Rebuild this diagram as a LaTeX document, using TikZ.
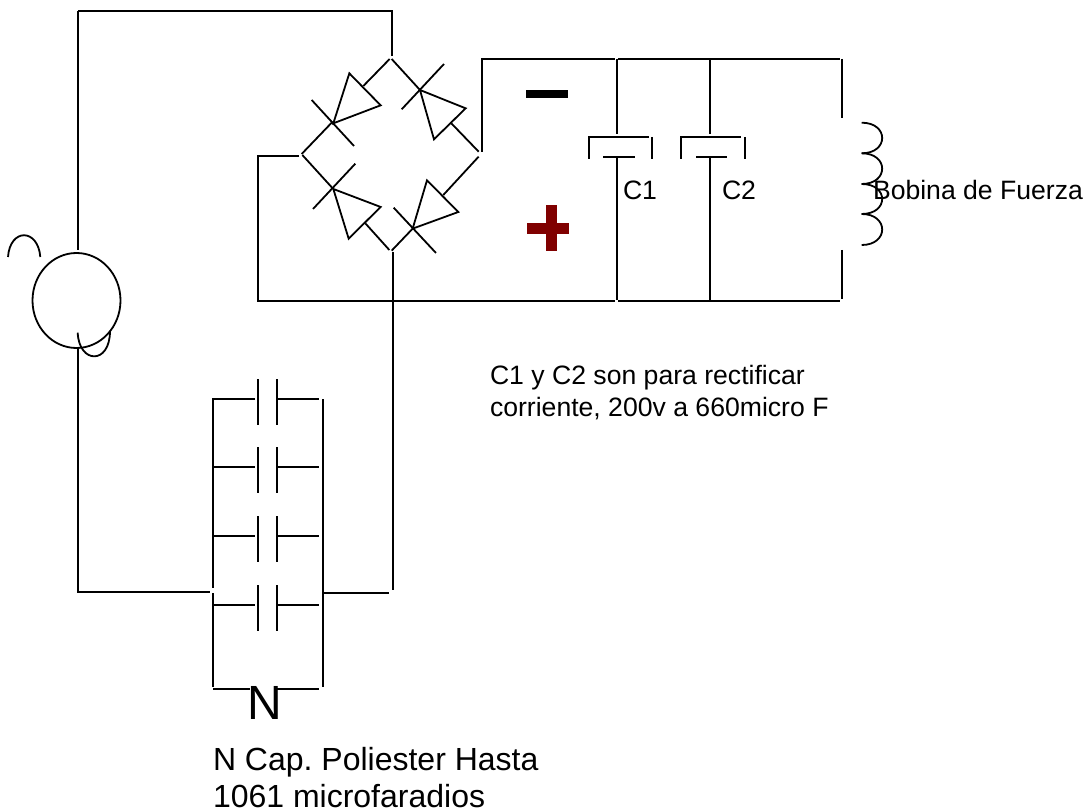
\documentclass[tikz,border=0pt]{standalone}
\usepackage{fontspec}
\setmainfont{Liberation Sans}
\frenchspacing
\tikzset{
  wire/.style={line width=1.8pt,black,line cap=butt,line join=miter},
  lbl/.style={inner sep=0pt,outer sep=0pt,anchor=base west,align=left},
}
\definecolor{plusred}{RGB}{128,0,0}
\newcommand{\txt}[1]{\fontsize{#1}{#1}\selectfont}
\begin{document}
\begin{tikzpicture}[x=1pt,y=-1pt]
\useasboundingbox (0,0) rectangle (1087,810);
% AC source
\draw[wire] (78,11) -- (392,11) -- (392,56);
\draw[wire] (78,11) -- (78,250);
\draw[wire] (78,349) -- (78,592) -- (210,592);
\draw[wire] (76.5,300.5) ellipse [x radius=44,y radius=47.5];
\draw[wire] (8,257) .. controls (10,228) and (38,228) .. (40.3,257);
\draw[wire] (77.7,332.7) .. controls (79,364) and (110,365) .. (110,331);
% bridge
\begin{scope}[shift={(290,40)},x=0.3333pt,y=-0.3333pt]
\draw[wire] (299,57) -- (220,138);
\draw[wire] (178,100) -- (272,196) -- (130,250) -- cycle;
\draw[wire] (65,180) -- (192,318);
\draw[wire] (128,245) -- (35,342);
\draw[wire] (305,57) -- (390,150);
\draw[wire] (462,72) -- (335,208);
\draw[wire] (390,150) -- (527,205) -- (432,298) -- cycle;
\draw[wire] (484,250) -- (566,335);
\draw[wire] (37,345) -- (128,445);
\draw[wire] (196,371) -- (69,507);
\draw[wire] (130,447) -- (272,501) -- (176,596) -- cycle;
\draw[wire] (226,550) -- (298,630);
\draw[wire] (566,350) -- (460,465);
\draw[wire] (411,421) -- (505,516) -- (368,566) -- cycle;
\draw[wire] (311,503) -- (438,639);
\draw[wire] (368,566) -- (305,632);
\end{scope}
% DC side
\draw[wire] (299,156) -- (258,156) -- (258,301) -- (615,301);
\draw[wire] (618,301) -- (840,301);
\draw[wire] (482,152) -- (482,59) -- (615,59);
\draw[wire] (618,59) -- (840,59);
\draw[wire] (393,252) -- (393,590);
\draw[wire] (323,593) -- (389,593);
% C1
\draw[wire] (617,59) -- (617,134);
\draw[wire] (589,159) -- (589,137) -- (649,137);
\draw[wire] (652,137) -- (652,159);
\draw[wire] (603,157) -- (635,157);
\draw[wire] (617,157) -- (617,300);
% C2
\draw[wire] (710,59) -- (710,134);
\draw[wire] (681,159) -- (681,137) -- (741,137);
\draw[wire] (745,137) -- (745,159);
\draw[wire] (696,157) -- (727,157);
\draw[wire] (710,157) -- (710,300);
% coil
\draw[wire] (842,59) -- (842,118);
\draw[wire] (842,250) -- (842,299);
\foreach \ya/\yb in {122.7/153.3,153.3/184,184/214,214/245}{
  \draw[wire] (861.7,\ya) .. controls (889,\ya) and (889,\yb) .. (861.7,\yb);
}
% bank
\draw[wire] (255,399) -- (213,399) -- (213,588);
\draw[wire] (213,593) -- (213,687);
\draw[wire] (323,399) -- (323,687);
\foreach \yy in {399,467,536,605}{
  \draw[wire] (213,\yy) -- (255,\yy);
  \draw[wire] (277,\yy) -- (319,\yy);
  \draw[wire] (258,\yy-20) -- (258,\yy+26);
  \draw[wire] (277,\yy-20) -- (277,\yy+26);
}
\draw[wire] (213,689) -- (250,689);
\draw[wire] (277,689) -- (319,689);
% signs
\fill[black] (525.7,89.7) rectangle (568.3,97.7);
\fill[plusred] (526.7,223) rectangle (569.3,234.3);
\fill[plusred] (545.7,205) rectangle (556.7,250.7);
% text
\node[lbl] (tC1) at (623,200) {\txt{26.6}C1};
\node[lbl] (tC2) at (722,200) {\txt{26.6}C2};
\node[lbl] (tcoil) at (873,200) {\txt{26.6}Bobina de Fuerza};
\node[lbl] (tnote1) at (490,384) {\txt{26.6}C1 y C2 son para rectificar};
\node[lbl] (tnote2) at (490,416) {\txt{26.6}corriente, 200v a 660micro F};
\node[lbl] (tN) at (247,719) {\txt{48}N};
\node[lbl] (tcap1) at (213,770) {\txt{32}N Cap. Poliester Hasta};
\node[lbl] (tcap2) at (213,807) {\txt{32}1061 microfaradios};
\end{tikzpicture}
\end{document}
